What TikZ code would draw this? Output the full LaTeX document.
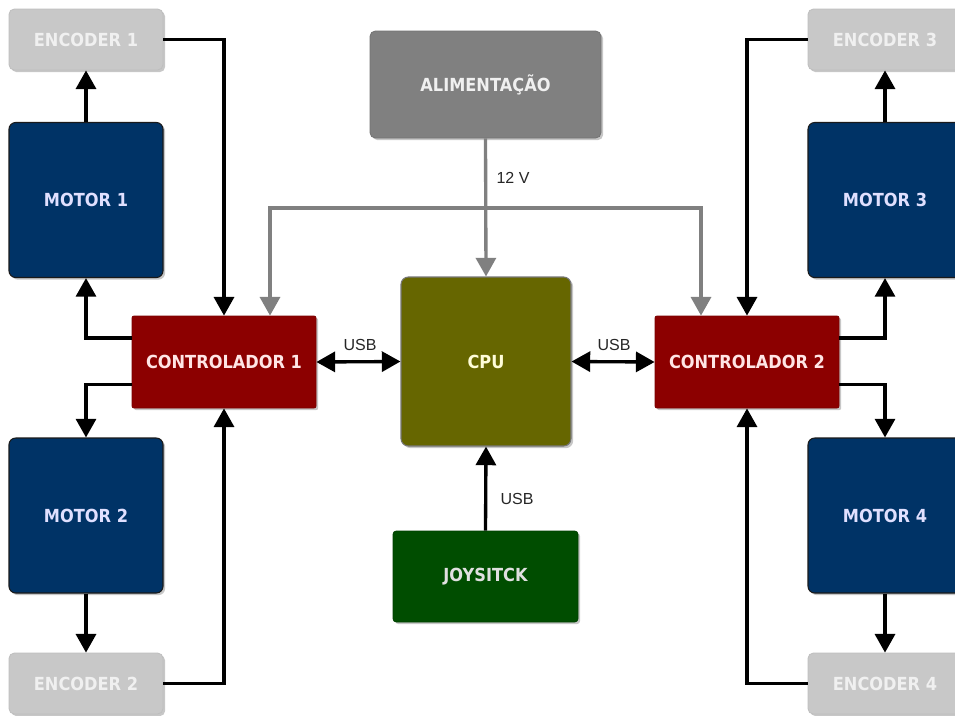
\documentclass[tikz,border=0pt]{standalone}
\usepackage{fontspec}
\setmainfont{Liberation Sans}
\newfontfamily\boxfont[FakeStretch=0.9]{DejaVu Sans}
\usetikzlibrary{arrows.meta,shadows}

\definecolor{encfill}{HTML}{C8C8C8}
\definecolor{encdraw}{HTML}{BEBEBE}
\definecolor{motfill}{HTML}{003366}
\definecolor{motdraw}{HTML}{1A1A1A}
\definecolor{ctlfill}{HTML}{8C0000}
\definecolor{ctldraw}{HTML}{7A0000}
\definecolor{pwrfill}{HTML}{808080}
\definecolor{cpufill}{HTML}{666600}
\definecolor{cpudraw}{HTML}{777777}
\definecolor{joyfill}{HTML}{004D00}
\definecolor{wire}{HTML}{808080}

\tikzset{
  x=0.75pt, y=-0.75pt,
  blk/.style={rectangle, align=center, inner sep=0pt,
    font=\boxfont\bfseries\fontsize{13.5}{16}\selectfont,
    drop shadow={shadow xshift=1.6pt, shadow yshift=-1.6pt, fill=black, opacity=0.22}},
  encbox/.style={blk, fill=encfill, draw=encdraw, line width=0.6pt,
    rounded corners=4pt, text=white!94!black,
    minimum width=154*0.75pt, minimum height=61*0.75pt},
  motbox/.style={blk, fill=motfill, draw=motdraw, line width=0.8pt,
    rounded corners=5pt, text=white!88!blue,
    minimum width=154*0.75pt, minimum height=155*0.75pt},
  ctlbox/.style={blk, fill=ctlfill, draw=ctldraw, line width=0.6pt,
    rounded corners=1.5pt, text=white!90!red,
    minimum width=184*0.75pt, minimum height=92*0.75pt},
  pwrbox/.style={blk, fill=pwrfill, draw=pwrfill!90!black, line width=0.6pt,
    rounded corners=4pt, text=white!94!black,
    minimum width=231*0.75pt, minimum height=107*0.75pt},
  cpubox/.style={blk, fill=cpufill, draw=cpudraw, line width=0.8pt,
    rounded corners=5.5pt, text=white!85!yellow,
    minimum width=170*0.75pt, minimum height=169*0.75pt},
  joybox/.style={blk, fill=joyfill, draw=joyfill!85!black, line width=0.6pt,
    rounded corners=2.5pt, text=white!88!black,
    minimum width=185*0.75pt, minimum height=91*0.75pt},
  tip/.tip={Triangle[length=14pt,width=15pt]},
  arr/.style={draw=black, line width=2.5pt, -tip},
  barr/.style={draw=black, line width=2.5pt, tip-tip},
  garr/.style={draw=wire, line width=2.5pt, -tip},
  gline/.style={draw=wire, line width=2.5pt},
  lbl/.style={font=\fontsize{12}{14}\selectfont, text=black!85, inner sep=1pt},
}

\begin{document}
\begin{tikzpicture}
\path[use as bounding box, clip] (0,0) rectangle (955,715);
\fill[white] (0,0) rectangle (955,715);

% left side
\node[encbox] (e1) at (86,39.5)  {ENCODER 1};
\node[motbox] (m1) at (86,200)   {MOTOR 1};
\node[ctlbox] (c1) at (224,362)  {CONTROLADOR 1};
\node[motbox] (m2) at (86,515.5) {MOTOR 2};
\node[encbox] (e2) at (86,683.5) {ENCODER 2};

% centre
\node[pwrbox] (pw) at (485.5,84.5)  {ALIMENTAÇÃO};
\node[cpubox] (cpu) at (486,361.5)  {CPU};
\node[joybox] (joy) at (485.5,576.5) {JOYSITCK};

% right side
\node[encbox] (e3) at (885,39.5)  {ENCODER 3};
\node[motbox] (m3) at (885,200)   {MOTOR 3};
\node[ctlbox] (c2) at (747,362)   {CONTROLADOR 2};
\node[motbox] (m4) at (885,515.5) {MOTOR 4};
\node[encbox] (e4) at (885,683.5) {ENCODER 4};

% power distribution
\coordinate (split) at (486,208);
\draw[garr] (pw.south) -- (cpu.north);
\draw[garr] (split) -| ([xshift=46*0.75pt]c1.north);
\draw[garr] (split) -| ([xshift=-46*0.75pt]c2.north);
\node[lbl] at (513,178) {12 V};

% controller 1 loop
\draw[arr] (m1.north) -- (e1.south);
\draw[arr] (e1.east) -| (c1.north);
\draw[arr] ([yshift=18pt]c1.west) -| (m1.south);
\draw[arr] ([yshift=-17pt]c1.west) -| (m2.north);
\draw[arr] (m2.south) -- (e2.north);
\draw[arr] (e2.east) -| (c1.south);

% controller 2 loop
\draw[arr] (m3.north) -- (e3.south);
\draw[arr] (e3.west) -| (c2.north);
\draw[arr] ([yshift=18pt]c2.east) -| (m3.south);
\draw[arr] ([yshift=-17pt]c2.east) -| (m4.north);
\draw[arr] (m4.south) -- (e4.north);
\draw[arr] (e4.west) -| (c2.south);

% USB links
\draw[barr] (c1.east) -- (cpu.west);
\draw[barr] (cpu.east) -- (c2.west);
\draw[arr] (joy.north) -- (cpu.south);
\node[lbl] at (360,345) {USB};
\node[lbl] at (614,345) {USB};
\node[lbl] at (517,499) {USB};
\end{tikzpicture}
\end{document}
